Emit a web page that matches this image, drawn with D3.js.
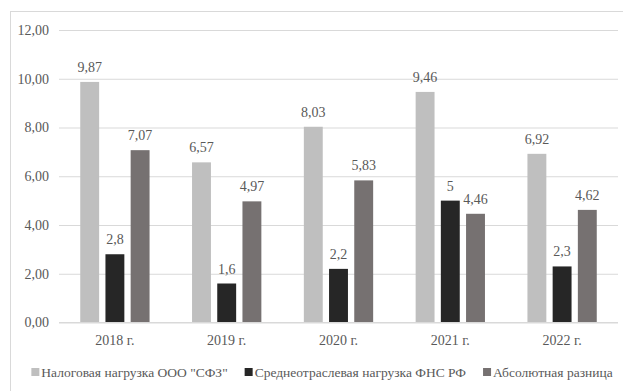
<!DOCTYPE html>
<html><head><meta charset="utf-8">
<script src="https://cdn.jsdelivr.net/npm/d3@7"></script>
<style>
html,body{margin:0;padding:0;background:#fff;}
</style></head>
<body>
<svg id="chart" width="623" height="391"></svg>
<script>
// Tax burden by year
const categories = ["2018 г.", "2019 г.", "2020 г.", "2021 г.", "2022 г."];
const seriesNames = ["Налоговая нагрузка ООО \"СФЗ\"", "Среднеотраслевая нагрузка ФНС РФ", "Абсолютная разница"];
const companyLoad = [9.87, 6.57, 8.03, 9.46, 6.92];
const industryLoad = [2.8, 1.6, 2.2, 5, 2.3];
const absDiff = [7.07, 4.97, 5.83, 4.46, 4.62];
const companyLabels = ["9,87", "6,57", "8,03", "9,46", "6,92"];
const industryLabels = ["2,8", "1,6", "2,2", "5", "2,3"];
const diffLabels = ["7,07", "4,97", "5,83", "4,46", "4,62"];
const yTicks = [0, 2, 4, 6, 8, 10, 12];
const colors = ["#bfbfbf", "#262626", "#767171"];

const series = [
  {name: seriesNames[0], values: companyLoad, labels: companyLabels},
  {name: seriesNames[1], values: industryLoad, labels: industryLabels},
  {name: seriesNames[2], values: absDiff, labels: diffLabels}
];

const svg = d3.select("#chart");

// outer frame of the chart area
svg.append("rect").attr("x", 10.5).attr("y", 11.5).attr("width", 640).attr("height", 400)
  .attr("fill", "none").attr("stroke", "#d9d9d9").attr("stroke-width", 1);

const left = 59, right = 618;
const y = d3.scaleLinear().domain([0, 12]).range([322.5, 30]);
const x0 = d3.scaleBand().domain(categories).range([left, right]).paddingInner(0.38).paddingOuter(0.19);
const x1 = d3.scaleBand().domain(d3.range(3)).range([0, x0.bandwidth()]).paddingInner(0.25);

// gridlines and y labels
const yAxis = d3.axisLeft(y).tickValues(yTicks).tickSize(-(right - left))
  .tickFormat(d => d3.format(".2f")(d).replace(".", ","));
const gy = svg.append("g").attr("transform", `translate(${left},0)`).call(yAxis);
gy.select(".domain").remove();
gy.selectAll(".tick line").attr("stroke", "#d9d9d9").attr("stroke-width", 1);
gy.selectAll(".tick text").attr("x", -10);

// bars with value labels
const groups = svg.append("g").selectAll("g").data(categories).join("g")
  .attr("transform", d => `translate(${x0(d)},0)`);

series.forEach((s, si) => {
  groups.append("rect")
    .attr("x", x1(si))
    .attr("width", x1.bandwidth())
    .attr("y", (d, i) => y(s.values[i]))
    .attr("height", (d, i) => y(0) - y(s.values[i]))
    .attr("fill", colors[si]);
  groups.append("text")
    .attr("x", x1(si) + x1.bandwidth() / 2)
    .attr("y", (d, i) => y(s.values[i]) - 10)
    .attr("text-anchor", "middle")
    .text((d, i) => s.labels[i]);
});

// x axis baseline and category labels
svg.append("line").attr("x1", left).attr("x2", right).attr("y1", y(0)).attr("y2", y(0))
  .attr("stroke", "#d9d9d9");
svg.append("g").selectAll("text").data(categories).join("text")
  .attr("x", d => x0(d) + x0.bandwidth() / 2)
  .attr("y", 345)
  .attr("text-anchor", "middle")
  .text(d => d);

// legend: items laid out one after another from their measured widths
const legend = svg.append("g");
const lg = legend.selectAll("g").data(series).join("g");
lg.append("rect").attr("width", 8).attr("height", 8).attr("y", 1).attr("fill", (d, i) => colors[i]);
lg.append("text").attr("x", 10).attr("y", 9.5).attr("class", "leg").text(d => d.name);

// shared typography
svg.selectAll("text")
  .attr("font-family", "Liberation Serif")
  .attr("font-size", 14)
  .attr("fill", "#595959");
svg.selectAll("g").attr("font-family", null).attr("font-size", null);
svg.selectAll("text.leg").attr("font-size", 13.5);

let cursor = 0;
lg.each(function () {
  const w = d3.select(this).select("text").node().getComputedTextLength();
  d3.select(this).attr("transform", `translate(${cursor},0)`);
  cursor += 10 + w + 17;
});
const legendWidth = cursor - 17;
legend.attr("transform", `translate(${322 - legendWidth / 2},367)`);
</script>
</body></html>
